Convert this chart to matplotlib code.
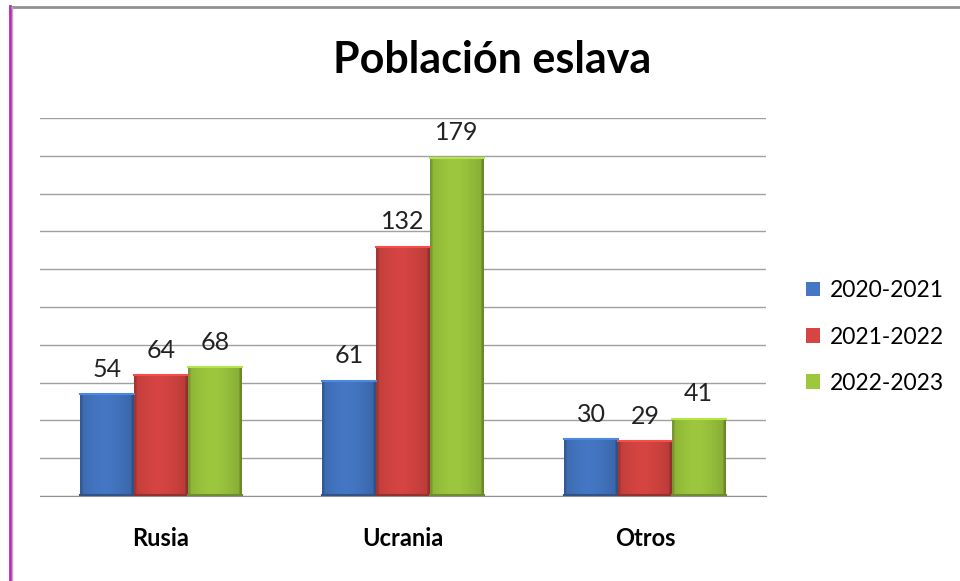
import numpy as np
import matplotlib
matplotlib.use('Agg')
import matplotlib.pyplot as plt
from matplotlib.lines import Line2D
from matplotlib.patches import Patch
from matplotlib.colors import to_rgb

categories = ['Rusia', 'Ucrania', 'Otros']
series_names = ['2020-2021', '2021-2022', '2022-2023']
values = [
    [54, 61, 30],
    [64, 132, 29],
    [68, 179, 41],
]
colors = ['#4477c4', '#d64541', '#9dc83e']

plt.rcParams['font.family'] = ['Lato', 'DejaVu Sans']

W, H = 960, 581
fig = plt.figure(figsize=(W / 100, H / 100), dpi=100)
ax = fig.add_axes([40 / W, 85 / H, 726 / W, 378 / H])

x = np.arange(len(categories))
bw = 0.222


def shade_bar(ax, x0, x1, top, color):
    # horizontal gradient to fake the bevelled look
    c = np.array(to_rgb(color))
    t = np.linspace(0, 1, 64)
    prof = 1.0 - 0.18 * np.abs(t - 0.45) ** 1.5 * 2
    prof[:3] *= 0.85
    prof[-3:] *= 0.8
    img = np.clip(c[None, :] * prof[:, None], 0, 1)
    img = img[None, :, :]
    ax.imshow(img, extent=[x0, x1, 0, top], aspect='auto', zorder=3, interpolation='bilinear')
    ax.plot([x0, x1], [top, top], color=np.clip(c * 1.15, 0, 1), lw=1.5, zorder=4)
    ax.plot([x0, x1], [0.6, 0.6], color=c * 0.7, lw=1.5, zorder=4)


for i, (name, vals, col) in enumerate(zip(series_names, values, colors)):
    for j, v in enumerate(vals):
        xc = x[j] + (i - 1) * bw
        shade_bar(ax, xc - bw / 2, xc + bw / 2, v, col)
        ax.text(xc, v + 7, str(v), ha='center', va='bottom', fontsize=18, color='#222222')

ax.set_xlim(-0.5, 2.5)
ax.set_ylim(0, 200)
ax.set_yticks(np.arange(0, 201, 20))
ax.set_yticklabels([])
ax.tick_params(axis='y', length=0)
ax.grid(axis='y', color='#a0a0a0', lw=1, zorder=0)
ax.set_axisbelow(True)
for s in ['top', 'right', 'left']:
    ax.spines[s].set_visible(False)
ax.spines['bottom'].set_color('#909090')
ax.set_xticks(x)
ax.set_xticklabels(categories, fontsize=17, fontweight='bold')
ax.tick_params(axis='x', length=0, pad=22)

fig.text(492 / W, 1 - 60 / H, 'Población eslava', ha='center', va='center',
         fontsize=31, fontweight='bold')

handles = [Patch(facecolor=c, edgecolor='none') for c in colors]
fig.legend(handles, series_names, loc='center left', bbox_to_anchor=(806 / W, 1 - 337 / H),
           frameon=False, fontsize=16.5, handlelength=0.6, handleheight=0.6,
           handletextpad=0.45, labelspacing=1.1, borderpad=0, borderaxespad=0)

# chart border
fig.add_artist(Line2D([9.5 / W, 9.5 / W], [0, 1 - 6 / H], color='#c020c0', lw=2))
fig.add_artist(Line2D([11.5 / W, 1], [1 - 7 / H, 1 - 7 / H], color='#909090', lw=2))
fig.add_artist(Line2D([12 / W, 12 / W], [0, 1 - 7 / H], color='#b0b0b0', lw=1))

fig.savefig('out.png', dpi=100)
